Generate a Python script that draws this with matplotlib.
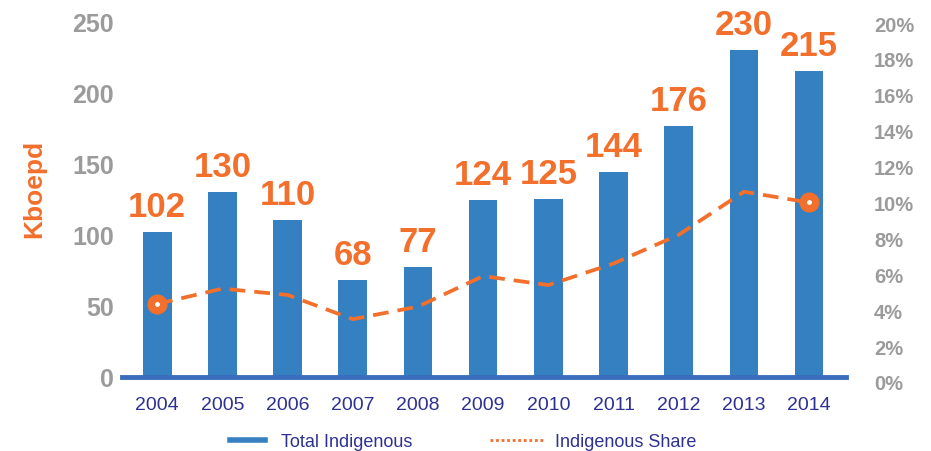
import matplotlib

matplotlib.use("Agg")
import matplotlib.pyplot as plt

years = ["2004", "2005", "2006", "2007", "2008", "2009", "2010", "2011", "2012", "2013", "2014"]
total_kboepd = [102, 130, 110, 68, 77, 124, 125, 144, 176, 230, 215]
share_pct = [4.35, 5.2, 4.85, 3.5, 4.2, 5.9, 5.4, 6.6, 8.2, 10.6, 10.0]

left_ticks = [0, 50, 100, 150, 200, 250]
right_ticks = [0, 2, 4, 6, 8, 10, 12, 14, 16, 18, 20]

BLUE = "#3580c1"
AXIS_BLUE = "#3a6dbb"
ORANGE = "#f26f2c"
GREY = "#9b9b9b"
NAVY = "#2e3192"

plt.rcParams["font.family"] = ["Liberation Sans", "DejaVu Sans"]

fig = plt.figure(figsize=(9.31, 4.52), dpi=100)
ax = fig.add_axes([0.131, 0.164, 0.778, 0.787])
# share axis sits a few pixels lower than the volume axis, as in the source chart
ax2 = fig.add_axes([0.131, 0.1527, 0.778, 0.7942], sharex=ax)

x = list(range(len(years)))
ax.bar(x, total_kboepd, width=0.44, color=BLUE, zorder=2)
for xi, v in zip(x, total_kboepd):
    ax.annotate(str(v), (xi, v), xytext=(0, 6.5), textcoords="offset points",
                ha="center", va="bottom", fontsize=25, fontweight="bold", color=ORANGE)

ax.set_xlim(-0.54, 10.57)
ax.set_ylim(0, 250)
ax.set_yticks(left_ticks)
ax.set_yticklabels([str(t) for t in left_ticks], fontsize=18, fontweight="bold", color=GREY)
ax.set_xticks(x)
ax.set_xticklabels(years, fontsize=14, color=NAVY)
ax.tick_params(axis="both", length=0)
ax.tick_params(axis="x", pad=14)
ax.tick_params(axis="y", pad=6)
ax.set_ylabel("Kboepd", fontsize=19, fontweight="bold", color=ORANGE)
ax.yaxis.set_label_coords(-0.104, 0.53)
for side in ["top", "right", "left"]:
    ax.spines[side].set_visible(False)
ax.spines["bottom"].set_color(AXIS_BLUE)
ax.spines["bottom"].set_linewidth(3.5)
ax.spines["bottom"].set_zorder(3)

ax2.patch.set_visible(False)
ax2.plot(x, share_pct, color=ORANGE, lw=2.7, dashes=(4.2, 2.4), zorder=4,
         marker="o", markersize=13.5, markevery=[0, len(x) - 1])
ax2.plot(x, share_pct, color="white", lw=0, marker="o", markersize=2.5,
         markevery=[0, len(x) - 1], zorder=5)
ax2.set_ylim(0, 20)
ax2.yaxis.tick_right()
ax2.set_yticks(right_ticks)
ax2.set_yticklabels([f"{t}%" for t in right_ticks], fontsize=14.5, fontweight="bold", color=GREY)
ax2.tick_params(axis="y", length=0, pad=20)
ax2.xaxis.set_visible(False)
for side in ["top", "right", "left", "bottom"]:
    ax2.spines[side].set_visible(False)

fig.legend([plt.Line2D([], [], color=BLUE, lw=4)], ["Total Indigenous"],
           loc="center left", bbox_to_anchor=(0.247, 0.021), frameon=False,
           fontsize=13, labelcolor=NAVY, handlelength=1.94, handletextpad=0.9,
           borderpad=0, borderaxespad=0)
fig.legend([plt.Line2D([], [], color=ORANGE, lw=2, linestyle=(0, (1, 1)))],
           ["Indigenous Share"], loc="center left", bbox_to_anchor=(0.526, 0.021),
           frameon=False, fontsize=13, labelcolor=NAVY, handlelength=3.05,
           handletextpad=0.55, borderpad=0, borderaxespad=0)

fig.savefig("out.png", dpi=100)
